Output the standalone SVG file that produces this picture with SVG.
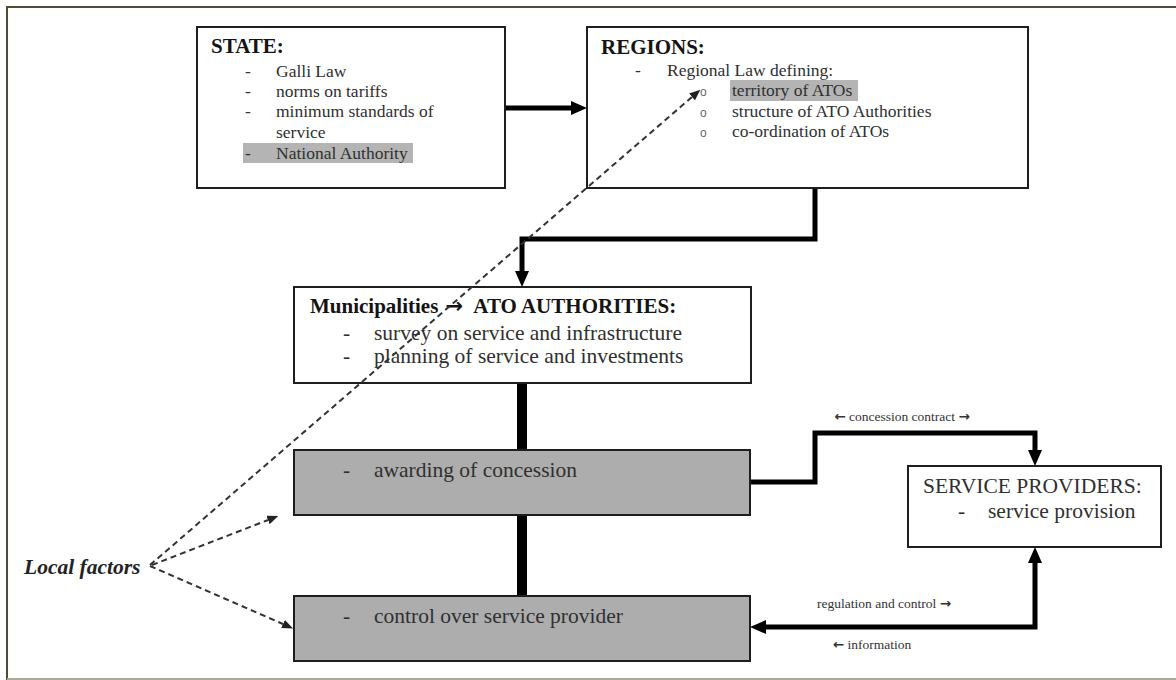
<svg xmlns="http://www.w3.org/2000/svg" width="1176" height="680" viewBox="0 0 1176 680">
  <style>
    text { font-family: "Liberation Serif", "Times New Roman", serif; }
    .box { fill: #ffffff; stroke: #1e1e1e; stroke-width: 2; }
    .shaded { fill: #adadad; stroke: #1e1e1e; stroke-width: 2; }
    .head { font-size: 21px; font-weight: bold; fill: #141414; }
    .item { font-size: 17.5px; fill: #303030; }
    .item-lg { font-size: 21.5px; fill: #303030; }
    .bullet { font-family: "Liberation Sans", Arial, sans-serif; font-size: 12px; fill: #666666; }
    .hl { fill: #b4b4b4; }
    .flow { fill: none; stroke: #000000; stroke-width: 5; }
    .bar { fill: none; stroke: #000000; stroke-width: 10; }
    .dash { fill: none; stroke: #333333; stroke-width: 2; stroke-dasharray: 6 4; }
    .label { font-size: 13.5px; fill: #333333; }
    .arw { font-family: "DejaVu Sans", sans-serif; font-weight: bold; }
  </style>
  <defs>
    <marker id="head" markerUnits="userSpaceOnUse" markerWidth="16" markerHeight="14" refX="0" refY="7" orient="auto-start-reverse">
      <path d="M0,0 L16,7 L0,14 Z" fill="#000000"/>
    </marker>
    <marker id="head-small" markerUnits="userSpaceOnUse" markerWidth="11" markerHeight="9" refX="0" refY="4.5" orient="auto">
      <path d="M0,0 L11,4.5 L0,9 Z" fill="#222222"/>
    </marker>
  </defs>

  <rect x="0" y="0" width="1176" height="680" fill="#ffffff"/>
  <!-- page frame -->
  <path d="M7,680 V7 H1176" fill="none" stroke="#4f4b35" stroke-width="2"/>
  <line x1="7" y1="679" x2="1176" y2="679" stroke="#a9a99a" stroke-width="2"/>

  <!-- connectors -->
  <g id="connectors">
    <line class="flow" x1="505" y1="108" x2="571" y2="108" marker-end="url(#head)"/>
    <path class="flow" d="M815,188 V239 H522 V271" marker-end="url(#head)"/>
    <line class="bar" x1="522" y1="383" x2="522" y2="450"/>
    <line class="bar" x1="522" y1="515" x2="522" y2="596"/>
    <path class="flow" d="M750,482 H815 V433 H1035 V450" marker-end="url(#head)"/>
    <path class="flow" d="M1035,563 V627 H766" marker-start="url(#head)" marker-end="url(#head)"/>
    <text class="label" x="902" y="421" text-anchor="middle"><tspan class="arw">←</tspan> concession contract <tspan class="arw">→</tspan></text>
    <text class="label" x="884" y="608" text-anchor="middle">regulation and control <tspan class="arw">→</tspan></text>
    <text class="label" x="872" y="649" text-anchor="middle"><tspan class="arw">←</tspan> information</text>
  </g>

  <!-- STATE -->
  <g id="state">
    <rect class="box" x="197" y="27" width="308" height="161"/>
    <rect class="hl" x="243" y="143" width="170" height="20"/>
    <text class="head" x="211" y="53">STATE:</text>
    <text class="item" x="245" y="77">-</text>
    <text class="item" x="276" y="77">Galli Law</text>
    <text class="item" x="245" y="97">-</text>
    <text class="item" x="276" y="97">norms on tariffs</text>
    <text class="item" x="245" y="117">-</text>
    <text class="item" x="276" y="117">minimum standards of</text>
    <text class="item" x="276" y="138">service</text>
    <text class="item" x="245" y="159">-</text>
    <text class="item" x="276" y="159">National Authority</text>
  </g>

  <!-- REGIONS -->
  <g id="regions">
    <rect class="box" x="587" y="27" width="441" height="161"/>
    <rect class="hl" x="730" y="80" width="128" height="21"/>
    <text class="head" x="601" y="54">REGIONS:</text>
    <text class="item" x="635" y="76">-</text>
    <text class="item" x="667" y="76">Regional Law defining:</text>
    <text class="bullet" x="700" y="96">o</text>
    <text class="item" x="732" y="96">territory of ATOs</text>
    <text class="bullet" x="700" y="117">o</text>
    <text class="item" x="732" y="117">structure of ATO Authorities</text>
    <text class="bullet" x="700" y="137">o</text>
    <text class="item" x="732" y="137">co-ordination of ATOs</text>
  </g>

  <!-- ATO AUTHORITIES -->
  <g id="ato-authorities">
    <rect class="box" x="294" y="287" width="457" height="96"/>
    <text class="head" x="310" y="313" font-size="21.5">Municipalities <tspan class="arw" dx="2">→</tspan><tspan dx="6"> ATO AUTHORITIES:</tspan></text>
    <text class="item-lg" x="343" y="340">-</text>
    <text class="item-lg" x="374" y="340">survey on service and infrastructure</text>
    <text class="item-lg" x="343" y="363">-</text>
    <text class="item-lg" x="374" y="363">planning of service and investments</text>
  </g>

  <!-- awarding of concession -->
  <g id="awarding">
    <rect class="shaded" x="294" y="450" width="456" height="65"/>
    <text class="item-lg" x="343" y="477">-</text>
    <text class="item-lg" x="374" y="477">awarding of concession</text>
  </g>

  <!-- control over service provider -->
  <g id="control">
    <rect class="shaded" x="294" y="596" width="456" height="65"/>
    <text class="item-lg" x="343" y="623">-</text>
    <text class="item-lg" x="374" y="623">control over service provider</text>
  </g>

  <!-- SERVICE PROVIDERS -->
  <g id="service-providers">
    <rect class="box" x="908" y="466" width="253" height="81"/>
    <text class="item-lg" x="923" y="493" font-size="22">SERVICE PROVIDERS:</text>
    <text class="item-lg" x="958" y="518">-</text>
    <text class="item-lg" x="988" y="518">service provision</text>
  </g>

  <!-- Local factors -->
  <g id="local-factors">
    <text x="24" y="574" font-size="21.5" font-weight="bold" font-style="italic" fill="#222222">Local factors</text>
    <line class="dash" x1="150" y1="565" x2="692" y2="97" marker-end="url(#head-small)"/>
    <line class="dash" x1="152" y1="565" x2="268" y2="520" marker-end="url(#head-small)"/>
    <line class="dash" x1="150" y1="566" x2="283" y2="624" marker-end="url(#head-small)"/>
  </g>
</svg>
